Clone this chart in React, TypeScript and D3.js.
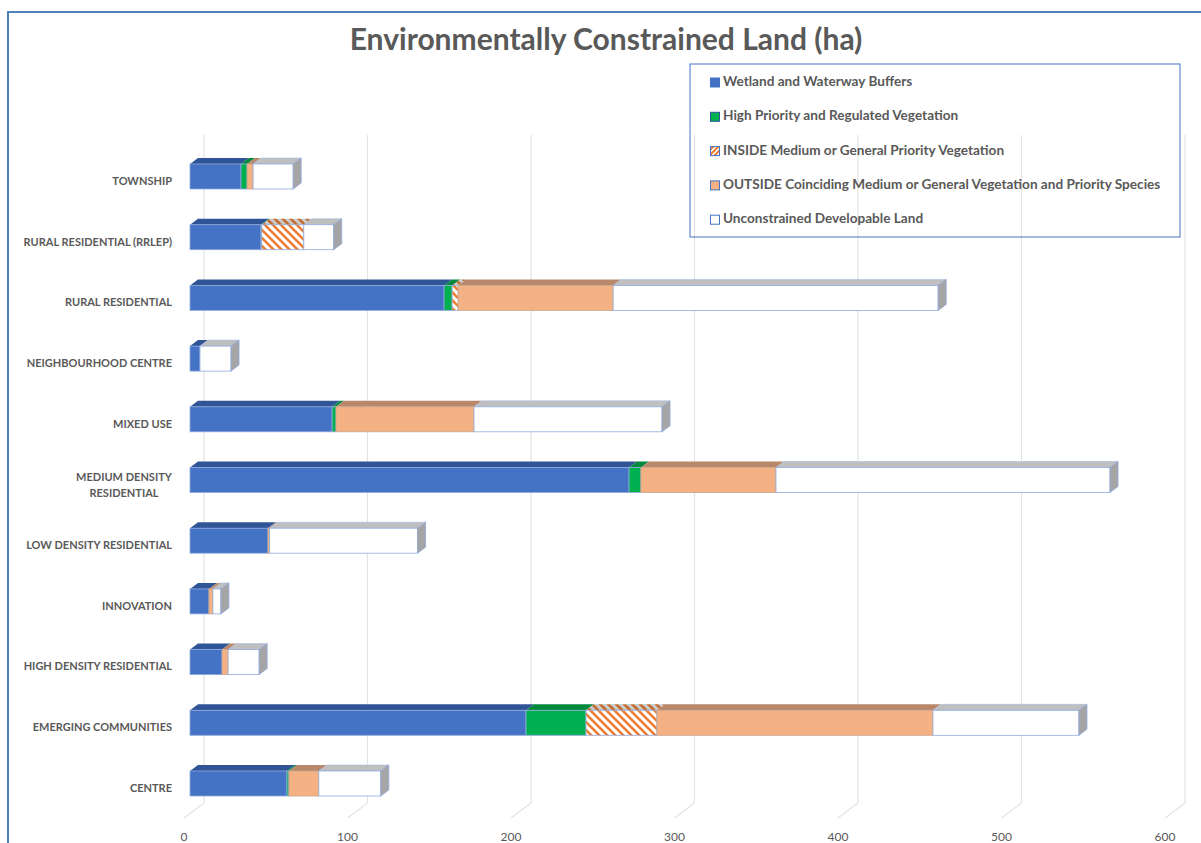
import React from "react";
import * as d3 from "d3";

const categories = [
  "TOWNSHIP",
  "RURAL RESIDENTIAL (RRLEP)",
  "RURAL RESIDENTIAL",
  "NEIGHBOURHOOD CENTRE",
  "MIXED USE",
  "MEDIUM DENSITY RESIDENTIAL",
  "LOW DENSITY RESIDENTIAL",
  "INNOVATION",
  "HIGH DENSITY RESIDENTIAL",
  "EMERGING COMMUNITIES",
  "CENTRE",
];

const wetland = [31.2, 43.4, 155.4, 6.1, 86.9, 268.5, 47.7, 11.6, 19.6, 205.5, 59.3];
const highPriority = [3.7, 0.5, 4.9, 0, 2.4, 7.3, 0, 0, 0, 36.7, 1.2];
const insideMedium = [0, 25.7, 3.7, 0, 0, 0, 0, 0, 0, 43.4, 0];
const outsideCoinciding = [3.7, 0, 94.8, 0, 84.4, 82.6, 1, 2.4, 3.7, 168.8, 18.3];
const unconstrained = [24.5, 18.3, 198.8, 19, 115, 204.3, 90.5, 4.9, 19, 89.3, 37.9];

const seriesNames = [
  "Wetland and Waterway Buffers",
  "High Priority and Regulated Vegetation",
  "INSIDE Medium or General Priority Vegetation",
  "OUTSIDE Coinciding Medium or General Vegetation and Priority Species",
  "Unconstrained Developable Land",
];
const seriesKeys = ["wetland", "high", "inside", "outside", "unconstrained"];
const xTicks = [0, 100, 200, 300, 400, 500, 600];

const frontFill: Record<string, string> = {
  wetland: "#4472C4",
  high: "#00B050",
  inside: "url(#hatch)",
  outside: "#F4B183",
  unconstrained: "#FFFFFF",
};
const topFill: Record<string, string> = {
  wetland: "#2F5597",
  high: "#00893E",
  inside: "url(#hatchTop)",
  outside: "#B9876A",
  unconstrained: "#BFBFBF",
};
const frontStroke: Record<string, string> = {
  wetland: "#8FAADC",
  high: "#8FAADC",
  inside: "#8FAADC",
  outside: "#C9A58E",
  unconstrained: "#8FAADC",
};

const rows = categories.map((c, i) => ({
  category: c,
  wetland: wetland[i],
  high: highPriority[i],
  inside: insideMedium[i],
  outside: outsideCoinciding[i],
  unconstrained: unconstrained[i],
}));

const W = 1201;
const H = 843;
const DX = 8;
const DY = -6;
const GRID_DX = 14;

export default function App() {
  const x = d3.scaleLinear().domain([0, 600]).range([190, 190 + 600 * 1.635]);
  const y = d3
    .scaleBand<string>()
    .domain(categories)
    .range([146.15, 146.15 + 11 * 60.7])
    .paddingInner(1 - 25 / 60.7)
    .paddingOuter((1 - 25 / 60.7) / 2);
  const stack = d3.stack<any>().keys(seriesKeys);
  const stacked = stack(rows as any);
  const bh = y.bandwidth();

  const font = "Lato, 'Open Sans', sans-serif";
  const textColor = "#595959";

  return (
    <svg
      width={W}
      height={H}
      style={{ position: "absolute", left: 0, top: 0, background: "#fff" }}
    >
      <defs>
        <pattern id="hatch" patternUnits="userSpaceOnUse" width="8" height="8">
          <rect width="8" height="8" fill="#fff" />
          <path d="M-2,-2 L10,10 M-6,2 L2,10 M2,-6 L10,2" stroke="#ED7D31" strokeWidth="2.6" />
        </pattern>
        <pattern id="hatchTop" patternUnits="userSpaceOnUse" width="8" height="8">
          <rect width="8" height="8" fill="#C9C9C9" />
          <path d="M-2,-2 L10,10 M-6,2 L2,10 M2,-6 L10,2" stroke="#C46A2D" strokeWidth="2.6" />
        </pattern>
        <pattern id="hatchLegend" patternUnits="userSpaceOnUse" width="5" height="5">
          <rect width="5" height="5" fill="#fff" />
          <path d="M5,0 L0,5 M-1,1 L1,-1 M4,6 L6,4" stroke="#ED7D31" strokeWidth="2" />
        </pattern>
      </defs>

      {/* chart frame */}
      <path d={`M8,${H} L8,12 L${W},12`} fill="none" stroke="#4F81BD" strokeWidth={2} />

      {/* title */}
      <text
        x={606}
        y={50}
        textAnchor="middle"
        fontFamily={font}
        fontWeight={700}
        fontSize={30}
        fill={textColor}
      >
        Environmentally Constrained Land (ha)
      </text>

      {/* gridlines (back wall + floor) */}
      {xTicks.map((t) => {
        const gx = x(t) + GRID_DX;
        return (
          <g key={t}>
            <line x1={gx} x2={gx} y1={135} y2={803} stroke="#E3E3E3" strokeWidth={1.2} />
            <line x1={gx} x2={gx - 20} y1={803} y2={818} stroke="#E3E3E3" strokeWidth={1.2} />
            <text
              x={x(t) - 6}
              y={838}
              dominantBaseline="middle"
              textAnchor="middle"
              fontFamily={font}
              fontSize={12}
              fill={textColor}
            >
              {t}
            </text>
          </g>
        );
      })}

      {/* bars */}
      {categories.map((cat, i) => {
        const y0 = y(cat)!;
        const y1 = y0 + bh;
        const segs = stacked
          .map((s) => ({ key: s.key, a: s[i][0], b: s[i][1] }))
          .filter((s) => s.b - s.a > 0);
        const last = segs[segs.length - 1];
        return (
          <g key={cat}>
            {segs.map((s) => {
              const xa = x(s.a);
              const xb = x(s.b);
              return (
                <g key={s.key}>
                  <path
                    d={`M${xa},${y0} L${xb},${y0} L${xb + DX},${y0 + DY} L${xa + DX},${y0 + DY} Z`}
                    fill={topFill[s.key]}
                    stroke={s.key === "unconstrained" ? "#A9BCE0" : "none"}
                    strokeWidth={0.6}
                  />
                  <rect
                    x={xa}
                    y={y0}
                    width={xb - xa}
                    height={bh}
                    fill={frontFill[s.key]}
                    stroke={frontStroke[s.key]}
                    strokeWidth={0.8}
                  />
                </g>
              );
            })}
            {last && (
              <path
                d={`M${x(last.b)},${y0} L${x(last.b) + DX},${y0 + DY} L${x(last.b) + DX},${y1 + DY} L${x(last.b)},${y1} Z`}
                fill="#A5A5A5"
                stroke="#8FAADC"
                strokeWidth={0.8}
              />
            )}
          </g>
        );
      })}

      {/* category labels */}
      {categories.map((cat) => {
        const cy = y(cat)! + bh / 2 + 5.5;
        const lines = cat === "MEDIUM DENSITY RESIDENTIAL" ? ["MEDIUM DENSITY", "RESIDENTIAL"] : [cat];
        return (
          <text
            key={cat}
            x={172}
            y={cy}
            textAnchor={lines.length > 1 ? "middle" : "end"}
            fontFamily={font}
            fontWeight={700}
            fontSize={11}
            fill={textColor}
            dominantBaseline="middle"
          >
            {lines.length > 1
              ? lines.map((l, k) => (
                  <tspan key={k} x={124} dy={k === 0 ? -8 : 16}>
                    {l}
                  </tspan>
                ))
              : cat}
          </text>
        );
      })}

      {/* legend */}
      <rect x={690} y={64} width={490} height={173} fill="none" stroke="#4472C4" strokeWidth={1} />
      {seriesNames.map((name, k) => {
        const ly = 82.5 + k * 34.3;
        const key = seriesKeys[k];
        const fill = key === "inside" ? "url(#hatchLegend)" : frontFill[key];
        return (
          <g key={name}>
            <rect
              x={710.5}
              y={ly - 4.5}
              width={9}
              height={9}
              fill={fill}
              stroke={key === "high" ? "#2F5597" : "#4472C4"}
              strokeWidth={1}
            />
            <text
              x={723}
              y={ly}
              dominantBaseline="middle"
              fontFamily={font}
              fontWeight={700}
              fontSize={13.6}
              fill={textColor}
            >
              {name}
            </text>
          </g>
        );
      })}
    </svg>
  );
}
